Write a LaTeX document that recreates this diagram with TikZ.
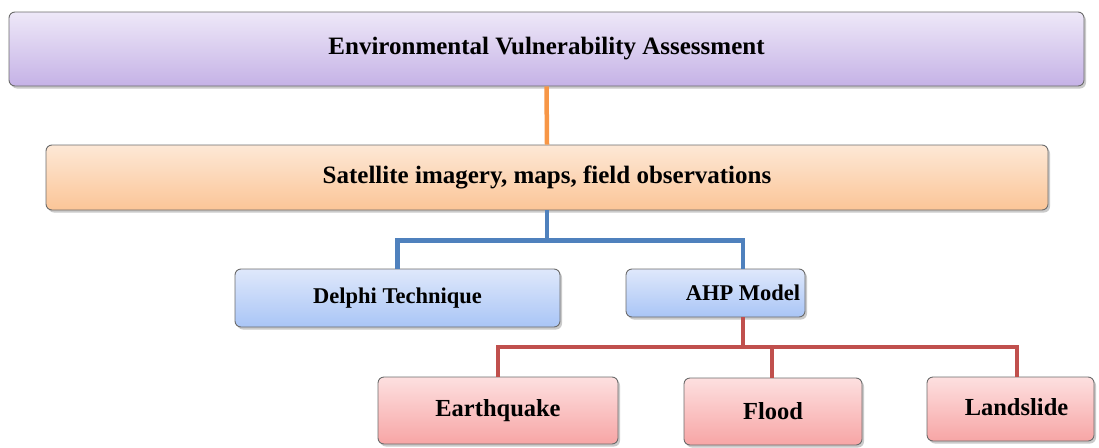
\documentclass[tikz,border=0pt]{standalone}
\usepackage{fontspec}
\setmainfont{Liberation Serif}
\usetikzlibrary{shadows}
\definecolor{purpTop}{HTML}{EEE8F8}
\definecolor{purpBot}{HTML}{C5B2E6}
\definecolor{orTop}{HTML}{FDE8D6}
\definecolor{orBot}{HTML}{FBC597}
\definecolor{blTop}{HTML}{DFE8FB}
\definecolor{blBot}{HTML}{A9C5F6}
\definecolor{pkTop}{HTML}{FDE0E0}
\definecolor{pkBot}{HTML}{F7A5A5}
\definecolor{edge}{HTML}{6B6B6B}
\definecolor{orLine}{HTML}{F79646}
\definecolor{blLine}{HTML}{4F81BD}
\definecolor{rdLine}{HTML}{C0504D}
\tikzset{
  card/.style={rectangle, rounded corners=6pt, draw=edge, line width=0.9pt,
    inner sep=0pt,
    drop shadow={shadow xshift=2pt, shadow yshift=-2.5pt, opacity=0.35, fill=black!60}},
  purplecard/.style={card, top color=purpTop, bottom color=purpBot},
  orangecard/.style={card, top color=orTop, bottom color=orBot},
  bluecard/.style={card, top color=blTop, bottom color=blBot},
  pinkcard/.style={card, top color=pkTop, bottom color=pkBot},
  bigtext/.style={font=\bfseries\fontsize{25}{30}\selectfont},
  midtext/.style={font=\bfseries\fontsize{22.5}{27}\selectfont},
  lowtext/.style={font=\bfseries\fontsize{24.5}{29}\selectfont},
  link/.style={line width=4.5pt},
}
\begin{document}
\begin{tikzpicture}[x=1pt, y=-1pt]
\useasboundingbox (0,0) rectangle (1099,447);

% boxes
\node[purplecard, bigtext, minimum width=1075pt, minimum height=74pt]
  (top) at (546.5,49) {Environmental Vulnerability Assessment};
\node[orangecard, bigtext, minimum width=1002pt, minimum height=65pt]
  (data) at (547,177.5) {Satellite imagery, maps, field observations};
\node[bluecard, midtext, minimum width=325pt, minimum height=58pt]
  (delphi) at (397.5,298) {Delphi Technique};
\node[bluecard, minimum width=179pt, minimum height=48pt]
  (ahp) at (715.5,293) {};
\node[midtext] (ahptext) at ([xshift=27.5pt]ahp.center) {AHP Model};
\node[pinkcard, lowtext, minimum width=240pt, minimum height=67pt]
  (eq) at (498,410.5) {Earthquake};
\node[pinkcard, lowtext, minimum width=178pt, minimum height=67pt]
  (flood) at (773,411.5) {Flood};
\node[pinkcard, minimum width=167pt, minimum height=64pt]
  (land) at (1010.5,409) {};
\node[lowtext] (landtext) at ([xshift=6pt,yshift=2pt]land.center) {Landslide};

% junction points of the tree
\coordinate (bj) at (547,240.5);
\coordinate (rj) at (743,347);

% connectors
\draw[link, orLine] (top.south) -- (data.north);
\draw[link, blLine] (data.south) -- (bj);
\draw[link, blLine] (delphi.north) |- (bj) -| ([xshift=27.5pt]ahp.north);
\draw[link, rdLine] ([xshift=27.5pt]ahp.south) -- (rj);
\draw[link, rdLine] (eq.north) |- (rj) -| ([xshift=6.5pt]land.north);
\draw[link, rdLine] ([xshift=-1pt]flood.north) -- ([xshift=-1pt]flood.north |- rj);
\end{tikzpicture}
\end{document}
